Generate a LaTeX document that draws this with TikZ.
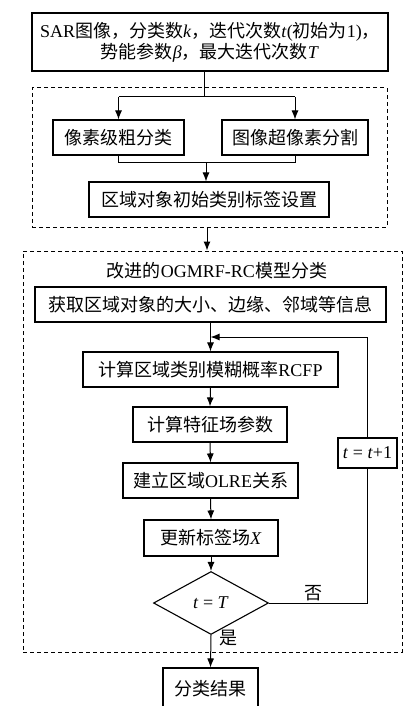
\documentclass[tikz,border=0pt]{standalone}
\usepackage{fontspec}
\setmainfont{Liberation Serif}
\newfontfamily\cjk{Noto Sans CJK SC}
\newcommand\zh[1]{{\cjk #1}}
\usetikzlibrary{arrows.meta,shapes.geometric}
\begin{document}
\begin{tikzpicture}[x=1pt,y=-1pt,
  every node/.style={font=\fontsize{18}{21}\selectfont},
  box/.style={draw,line width=1.1pt,inner sep=0pt,minimum height=35pt},
  link/.style={line width=1pt},
  arr/.style={link,-{Latex[length=9pt,width=7pt]}},
  dbox/.style={draw,line width=1pt,dash pattern=on 4pt off 3pt,inner sep=0pt}]
\useasboundingbox (0,0) rectangle (419,714);
\fill[white] (0,0) rectangle (419,714);
\clip (0,0) rectangle (403,705);
% groups
\node[dbox,minimum width=355pt,minimum height=139pt] (g1) at (209.5,157.5) {};
\node[dbox,minimum width=379pt,minimum height=401pt] (g2) at (212.5,451.5) {};
% boxes
\node[box,minimum width=356pt,minimum height=58pt,align=center] (in) at (210,42)
  {SAR\zh{图像，分类数}\textit{k}\zh{，迭代次数}\textit{t}(\zh{初始为}1)\zh{，}\\
   \zh{势能参数}\textit{β}\zh{，最大迭代次数}\textit{T}};
\node[box,minimum width=131pt] (pc) at (118.5,137.5) {\zh{像素级粗分类}};
\node[box,minimum width=146pt] (sp) at (295,137.5) {\zh{图像超像素分割}};
\node[box,minimum width=240pt] (init) at (209,199.5) {\zh{区域对象初始类别标签设置}};
\node (title) at (217,271) {\zh{改进的}OGMRF-RC\zh{模型分类}};
\node[box,minimum width=351pt] (D) at (210.5,304.5) {\zh{获取区域对象的大小、边缘、邻域等信息}};
\node[box,minimum width=255pt] (E) at (210.5,369.5) {\zh{计算区域类别模糊概率}RCFP};
\node[box,minimum width=154pt] (F) at (210,424.5) {\zh{计算特征场参数}};
\node[box,minimum width=175pt] (G) at (210.5,480.5) {\zh{建立区域}OLRE\zh{关系}};
\node[box,minimum width=134pt,minimum height=36pt] (H) at (211,538) {\zh{更新标签场}\textit{X}};
\node[draw,line width=1.1pt,shape=diamond,inner sep=0pt,minimum width=115pt,minimum height=63pt] (dec) at (211,603) {\textit{t} = \textit{T}};
\node[box,fill=white,minimum width=59pt,minimum height=30pt] (inc) at (367.5,453) {\textit{t} = \textit{t}+1};
\node[box,minimum width=95pt,minimum height=42pt] (res) at (210.5,689) {\zh{分类结果}};
\node (no) at (313,593) {\zh{否}};
\node (yes) at (228,638) {\zh{是}};
% connectors
\coordinate (j1) at (204,97);
\coordinate (j2) at (206,163);
\coordinate (j3) at (207,0);
\coordinate (fb) at (367,337);
\draw[link] (in.south -| j1) -- (j1);
\draw[link] (j1 -| pc) -- (j1 -| sp);
\draw[arr] (j1 -| pc) -- (pc.north);
\draw[arr] (j1 -| sp) -- (sp.north);
\draw[link] (pc.south) -- (pc.south |- j2) -- (sp.south |- j2) -- (sp.south);
\draw[arr] (j2) -- (j2 |- init.north);
\draw[arr] (g1.south -| j3) -- (g2.north -| j3);
\draw[arr] (D.south) -- (E.north);
\draw[arr] (E.south) -- (F.north);
\draw[arr] (F.south) -- (G.north);
\draw[arr] (G.south) -- (H.north);
\draw[arr] (H.south) -- (dec.north);
\draw[arr] (dec.south) -- (res.north);
\draw[link] (dec.east) -| (inc.south);
\draw[arr] (inc.north) |- (D.south |- fb);
\end{tikzpicture}
\end{document}
